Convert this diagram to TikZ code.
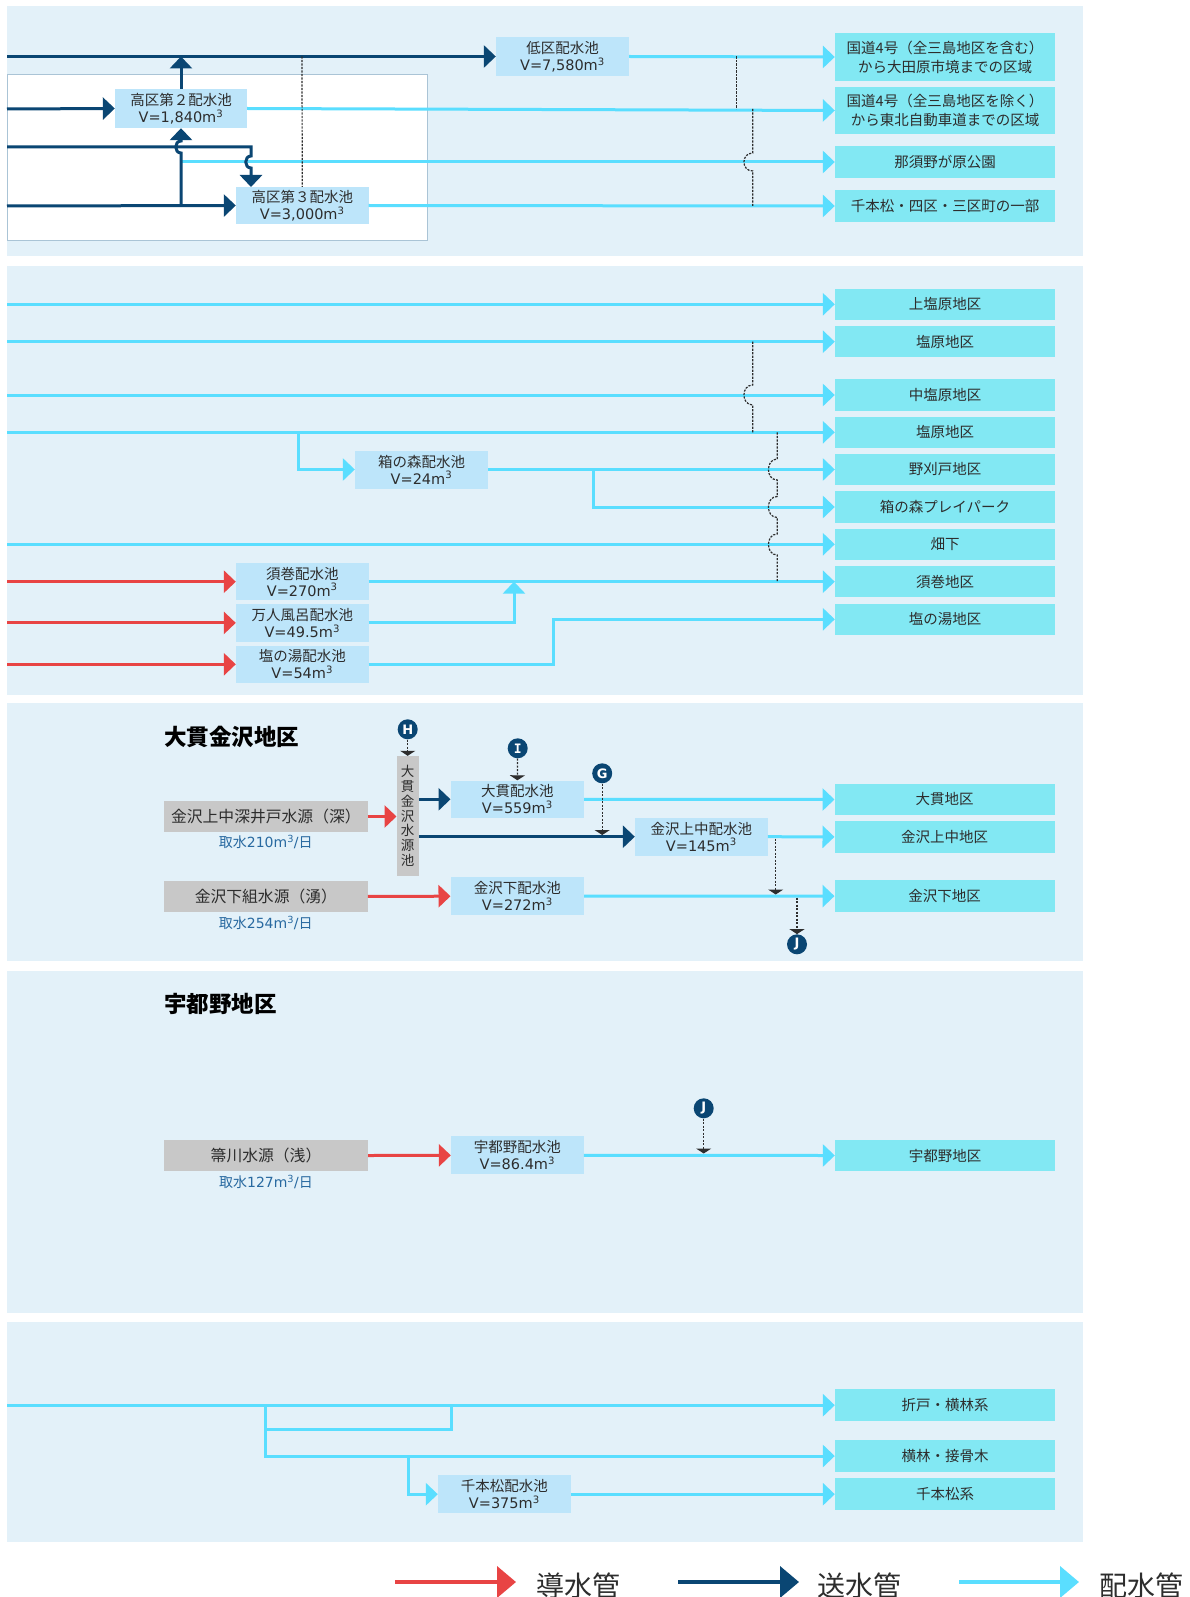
\documentclass[tikz,border=0pt]{standalone}
\usepackage{fontspec}
\setmainfont{Noto Sans CJK JP}
\newfontfamily\lat{DejaVu Sans}
\newfontfamily\latmono{DejaVu Sans Mono}
\usetikzlibrary{arrows.meta}
\definecolor{panelbg}{RGB}{227,241,249}
\definecolor{resbg}{RGB}{189,229,250}
\definecolor{tgtbg}{RGB}{130,232,243}
\definecolor{srcbg}{RGB}{200,200,200}
\definecolor{pipenavy}{RGB}{10,70,115}
\definecolor{pipecyan}{RGB}{90,222,255}
\definecolor{pipered}{RGB}{232,68,68}
\definecolor{takeblue}{RGB}{40,105,160}
\definecolor{framecol}{RGB}{170,196,214}
\definecolor{txt}{RGB}{45,45,45}
\definecolor{dotcol}{RGB}{45,45,45}
\newcommand{\vol}[1]{{\lat V=#1m\textsuperscript{3}}}
\tikzset{
  x=1pt, y=-1pt,
  panel/.style={fill=panelbg, draw=none},
  boxbase/.style={draw=none, inner sep=0pt, align=center, text=txt, font=\fontsize{14.5}{17}\selectfont},
  resbox/.style={boxbase, fill=resbg, minimum width=133pt, minimum height=38pt},
  tgtbox/.style={boxbase, fill=tgtbg, minimum width=220pt, minimum height=31.5pt},
  srcbox/.style={boxbase, fill=srcbg, minimum width=204pt, minimum height=31.5pt, font=\fontsize{15.8}{18}\selectfont},
  take/.style={text=takeblue, font=\fontsize{14}{17}\selectfont, inner sep=0pt},
  title/.style={anchor=west, text=black, inner sep=0pt, font=\bfseries\fontsize{22.5}{25}\selectfont},
  pipe/.style={line width=3pt},
  pipetip/.style={-{Triangle[length=12pt,width=22pt]}},
  dk/.style={pipe, draw=pipenavy, pipetip},
  cy/.style={pipe, draw=pipecyan, pipetip},
  rd/.style={pipe, draw=pipered, pipetip},
  cyl/.style={pipe, draw=pipecyan},
  dots/.style={draw=dotcol, line width=1.2pt, dash pattern=on 2.2pt off 1.3pt},
  dotarr/.style={dots, -{Triangle[length=5pt,width=15pt]}},
  badge/.style={circle, fill=pipenavy, text=white, inner sep=0pt, minimum size=20pt, font=\lat\bfseries\fontsize{13}{13}\selectfont},
  legtext/.style={anchor=west, inner sep=0pt, text=txt, font=\fontsize{28}{30}\selectfont},
}
\begin{document}
\begin{tikzpicture}
\clip (0,0) rectangle (1190,1597);
\fill[white] (0,0) rectangle (1190,1597);

% ---------------- panel 1 : high / low districts
\fill[panel] (7,6) rectangle (1083,256);
\draw[fill=white, draw=framecol, line width=0.8pt] (7,74) rectangle (427.5,240);

\node[resbox, minimum height=39pt] (low) at (562.5,56.5) {低区配水池\\\vol{7,580}};
\node[resbox, minimum width=132pt, minimum height=39pt] (hi2) at (181,108.5) {高区第２配水池\\\vol{1,840}};
\node[resbox, minimum width=132.5pt, minimum height=37pt] (hi3) at (302.25,205.5) {高区第３配水池\\\vol{3,000}};

\node[tgtbox, minimum height=48pt, font=\fontsize{14.5}{19}\selectfont] (a1) at (945,57) {国道4号（全三島地区を含む）\\から大田原市境までの区域};
\node[tgtbox, minimum height=47pt, font=\fontsize{14.5}{19}\selectfont] (a2) at (945,110.5) {国道4号（全三島地区を除く）\\から東北自動車道までの区域};
\node[tgtbox, minimum height=32pt] (a3) at (945,162) {那須野が原公園};
\node[tgtbox, minimum height=32pt] (a4) at (945,206) {千本松・四区・三区町の一部};

\coordinate (c3start) at (181,162);
\draw[cy] (low.east) -- (a1.west);
\draw[cy] (hi2.east) -- (a2.west);
\draw[cy] (c3start) -- (a3.west);
\draw[cy] (hi3.east) -- (a4.west);

\coordinate (r1) at (7,56.5);
\coordinate (r2) at (7,109);
\coordinate (r3) at (7,147);
\coordinate (r4) at (7,206);
\coordinate (tee1) at (181,56.5);
\coordinate (tee4) at (181,206);
\coordinate (hi3top) at (251,187);
\draw[dk] (r1) -- (low.west);
\draw[dk] (hi2.north) -- (tee1);
\draw[dk] (r2) -- (hi2.west);
\draw[dk] (r4) -- (hi3.west);
\draw[dk] (tee4) -- (181,153) .. controls (174,153) and (174,141) .. (181,141) -- (hi2.south);
\draw[dk] (r3) -- (251,147) -- (251,156) .. controls (244,156) and (244,168) .. (251,168) -- (hi3top);

\draw[dots] (302,56.5) -- (hi3.north);
\draw[dots] (736.6,56.5) -- (736.6,109);
\draw[dots] (752.7,109) -- (752.7,153) .. controls (741,153) and (741,171) .. (752.7,171) -- (752.7,206);

% ---------------- panel 2 : Shiobara
\fill[panel] (7,266) rectangle (1083,695);

\node[tgtbox] (b1) at (945,304.3) {上塩原地区};
\node[tgtbox] (b2) at (945,341.7) {塩原地区};
\node[tgtbox] (b3) at (945,395) {中塩原地区};
\node[tgtbox] (b4) at (945,432.3) {塩原地区};
\node[tgtbox] (b5) at (945,469.5) {野刈戸地区};
\node[tgtbox] (b6) at (945,507) {箱の森プレイパーク};
\node[tgtbox] (b7) at (945,544.3) {畑下};
\node[tgtbox] (b8) at (945,581.7) {須巻地区};
\node[tgtbox] (b9) at (945,619.3) {塩の湯地区};

\node[resbox] (hako) at (421.5,469.5) {箱の森配水池\\\vol{24}};
\node[resbox, minimum width=132.5pt, minimum height=37.4pt] (suma) at (302.25,581.7) {須巻配水池\\\vol{270}};
\node[resbox, minimum width=132.5pt, minimum height=37.4pt] (mann) at (302.25,622.9) {万人風呂配水池\\\vol{49.5}};
\node[resbox, minimum width=132.5pt, minimum height=37.4pt] (yuu) at (302.25,664.3) {塩の湯配水池\\\vol{54}};

\draw[cy] (7,304.3) -- (b1.west);
\draw[cy] (7,341.7) -- (b2.west);
\draw[cy] (7,395) -- (b3.west);
\draw[cy] (7,432.3) -- (b4.west);
\draw[cy] (7,544.3) -- (b7.west);
\draw[cy] (298.5,432.3) -- (298.5,469.5) -- (hako.west);
\draw[cy] (hako.east) -- (b5.west);
\draw[cy] (593,469.5) -- (593,507) -- (b6.west);
\draw[cy] (suma.east) -- (b8.west);
\draw[cy] (mann.east) -- (514,622.9) -- (514,581.7);
\draw[cy] (yuu.east) -- (553.8,664.3) -- (553.8,619.3) -- (b9.west);

\draw[rd] (7,581.7) -- (suma.west);
\draw[rd] (7,622.9) -- (mann.west);
\draw[rd] (7,664.3) -- (yuu.west);

\draw[dots] (752.7,341.7) -- (752.7,385) .. controls (741,385) and (741,405) .. (752.7,405) -- (752.7,432.3);
\draw[dots] (777.2,432.3) -- (777.2,459)
  .. controls (765.5,459) and (765.5,480) .. (777.2,480) -- (777.2,496.5)
  .. controls (765.5,496.5) and (765.5,517.5) .. (777.2,517.5) -- (777.2,534)
  .. controls (765.5,534) and (765.5,555) .. (777.2,555) -- (777.2,581.7);

% ---------------- panel 3 : Ohnuki-Kanazawa
\fill[panel] (7,703) rectangle (1083,961);
\node[title] (t3) at (164,736.7) {大貫金沢地区};

\node[srcbox, minimum width=203.7pt] (s1) at (265.85,816.5) {金沢上中深井戸水源（深）};
\node[take] (k1) at (265.8,841.7) {取水{\lat 210m\textsuperscript{3}/}日};
\node[boxbase, fill=srcbg, minimum width=22pt, minimum height=119.7pt, font=\fontsize{13.5}{14.7}\selectfont] (pond) at (407.7,815.85) {大\\貫\\金\\沢\\水\\源\\池};
\node[resbox, minimum width=133.3pt, minimum height=37.6pt] (ohn) at (517.35,799.3) {大貫配水池\\\vol{559}};
\node[resbox, minimum width=132.7pt] (kami) at (701.35,836.7) {金沢上中配水池\\\vol{145}};
\node[srcbox, minimum width=203.7pt] (s2) at (265.85,896.4) {金沢下組水源（湧）};
\node[take] (k2) at (265.8,922.7) {取水{\lat 254m\textsuperscript{3}/}日};
\node[resbox, minimum width=133.3pt, minimum height=37.7pt] (shimo) at (517.35,896.2) {金沢下配水池\\\vol{272}};

\node[tgtbox] (d1) at (944.7,799.5) {大貫地区};
\node[tgtbox] (d2) at (944.7,836.9) {金沢上中地区};
\node[tgtbox] (d3) at (944.7,896.1) {金沢下地区};

\draw[rd] (s1.east) -- (s1.east -| pond.west);
\draw[rd] (s2.east) -- (shimo.west);
\draw[dk] (ohn.west -| pond.east) -- (ohn.west);
\draw[dk] (kami.west -| pond.east) -- (kami.west);
\draw[cy] (ohn.east) -- (d1.west);
\draw[cy] (kami.east) -- (d2.west);
\draw[cy] (shimo.east) -- (d3.west);

\node[badge] (bH) at (407.7,729.3) {H};
\node[badge, font=\latmono\bfseries\fontsize{13}{13}\selectfont] (bI) at (517.7,748.3) {I};
\node[badge] (bG) at (602.2,773.3) {G};
\node[badge] (bJ1) at (797,944.3) {J};
\draw[dotarr] (bH) -- (pond.north);
\draw[dotarr] (bI) -- (ohn.north);
\draw[dotarr] (bG) -- (602.2,835);
\draw[dotarr] (775.7,838.5) -- (775.7,894.5);
\draw[dotarr] (797,897.5) -- (bJ1);

% ---------------- panel 4 : Utsuno
\fill[panel] (7,971) rectangle (1083,1313);
\node[title] (t4) at (164,1003.5) {宇都野地区};
\node[srcbox] (s3) at (266,1155.5) {箒川水源（浅）};
\node[take] (k3) at (266,1181.7) {取水{\lat 127m\textsuperscript{3}/}日};
\node[resbox, minimum width=132.7pt, minimum height=38.3pt] (utsu) at (517.35,1155.3) {宇都野配水池\\\vol{86.4}};
\node[tgtbox] (e1) at (945,1155.5) {宇都野地区};
\draw[rd] (s3.east) -- (utsu.west);
\draw[cy] (utsu.east) -- (e1.west);
\node[badge] (bJ2) at (703.7,1108.3) {J};
\draw[dotarr] (bJ2) -- (703.7,1153.5);

% ---------------- panel 5 : Senbonmatsu
\fill[panel] (7,1322) rectangle (1083,1542);
\node[tgtbox, minimum height=31.7pt] (f1) at (945,1405.2) {折戸・横林系};
\node[tgtbox, minimum height=32pt] (f2) at (945,1456) {横林・接骨木};
\node[tgtbox, minimum height=31.7pt] (f3) at (945,1494.2) {千本松系};
\node[resbox, minimum width=132.7pt, minimum height=38.3pt] (senb) at (504.35,1494.2) {千本松配水池\\\vol{375}};
\draw[cy] (7,1405.2) -- (f1.west);
\draw[cyl] (451.6,1405.2) -- (451.6,1429) -- (265.6,1429);
\draw[cy] (265.6,1405.2) -- (265.6,1456) -- (f2.west);
\draw[cy] (408.3,1456) -- (408.3,1494.2) -- (senb.west);
\draw[cy] (senb.east) -- (f3.west);

% ---------------- legend
\coordinate (lr0) at (395,1582);
\coordinate (lr1) at (516,1582);
\coordinate (ln0) at (678,1582);
\coordinate (ln1) at (799,1582);
\coordinate (lc0) at (959,1582);
\coordinate (lc1) at (1079,1582);
\draw[draw=pipered, line width=4pt, -{Triangle[length=19pt,width=31pt]}] (lr0) -- (lr1);
\draw[draw=pipenavy, line width=4pt, -{Triangle[length=19pt,width=31pt]}] (ln0) -- (ln1);
\draw[draw=pipecyan, line width=4pt, -{Triangle[length=19pt,width=31pt]}] (lc0) -- (lc1);
\node[legtext] (g1) at (536,1586) {導水管};
\node[legtext] (g2) at (817,1586) {送水管};
\node[legtext] (g3) at (1099,1586) {配水管};
\end{tikzpicture}
\end{document}
